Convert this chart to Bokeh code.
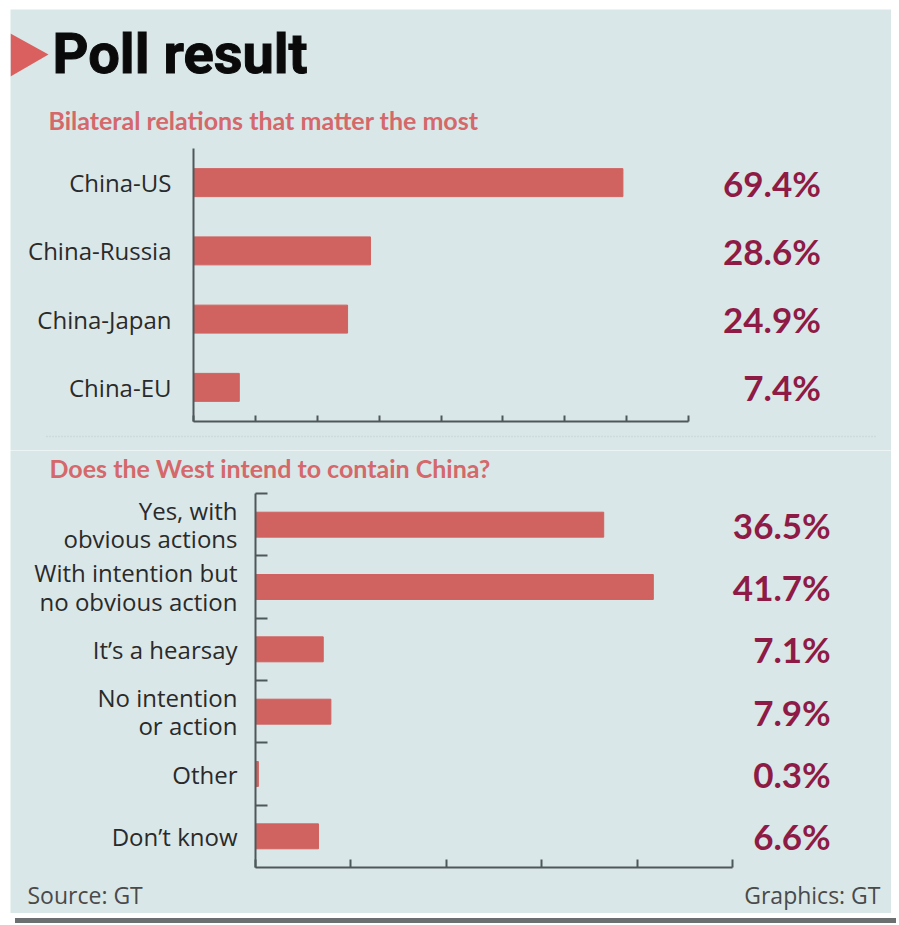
from bokeh.plotting import figure
from bokeh.models import Range1d, FixedTicker, Label, PolyAnnotation, ColumnDataSource, Div
from bokeh.layouts import column
from bokeh.embed import file_html
from bokeh.resources import INLINE
from bokeh.core.properties import value

# ---------------- data ----------------
title_text = "Poll result"
subtitle_top = "Bilateral relations that matter the most"
subtitle_bottom = "Does the West intend to contain China?"

relations = ["China-US", "China-Russia", "China-Japan", "China-EU"]
relation_pct = [69.4, 28.6, 24.9, 7.4]
relation_ticks = [0, 10, 20, 30, 40, 50, 60, 70, 80]

answers = ["Yes, with\nobvious actions", "With intention but\nno obvious action",
           "It\u2019s a hearsay", "No intention\nor action", "Other", "Don\u2019t know"]
answer_pct = [36.5, 41.7, 7.1, 7.9, 0.3, 6.6]
answer_ticks = [0, 10, 20, 30, 40, 50]

source_text = "Source: GT"
credit_text = "Graphics: GT"

# ---------------- styles ----------------
BG = "#dae7e8"
BAR = "#d0625f"
VAL = "#8e1b46"
AXIS = "#4c585a"
SUB = "#d4686a"

W = 881
HA = 441
HB = 463


def make_range(px_lo, px_hi, v_lo, v_hi, total):
    scale = (px_hi - px_lo) / (v_hi - v_lo)
    start = v_lo - px_lo / scale
    return Range1d(start, start + total / scale)


def base_fig(xr, yr, h):
    p = figure(width=W, height=h, x_range=xr, y_range=yr, output_backend="svg",
               toolbar_location=None, title=None, background_fill_color=BG,
               border_fill_color=BG, min_border=0, min_border_left=0, min_border_right=0,
               min_border_top=0, min_border_bottom=0)
    p.grid.visible = False
    p.outline_line_color = None
    for ax in (p.xaxis[0], p.yaxis[0]):
        ax.axis_line_color = AXIS
        ax.axis_line_width = 2
        ax.major_tick_line_color = AXIS
        ax.major_tick_line_width = 2
        ax.minor_tick_line_color = AXIS
        ax.minor_tick_line_width = 2
    p.xaxis.major_tick_out = 0
    p.xaxis.minor_tick_in = 0
    p.xaxis.minor_tick_out = 0
    p.yaxis.major_tick_in = 0
    p.yaxis.major_tick_out = 0
    p.yaxis.major_label_text_font = "Open Sans"
    p.yaxis.major_label_text_font_size = "24px"
    p.yaxis.major_label_text_color = "#2a2a2a"
    p.yaxis.major_label_text_line_height = 0.85
    p.yaxis.fixed_location = 0
    return p


# ---------------- top chart ----------------
n1 = len(relations)
pos1 = [n1 - 1 - i for i in range(n1)]
srcA = ColumnDataSource(dict(y=pos1, v=relation_pct,
                             lab=[f"{v:.1f}%" for v in relation_pct],
                             lx=[101.4] * n1))

pA = base_fig(make_range(183, 678, relation_ticks[0], relation_ticks[-1], W),
              make_range(29, 302, -0.5, n1 - 0.5, HA), HA)
pA.hbar(y="y", right="v", left=0, height=0.41, source=srcA, color=BAR)
pA.text(x="lx", y="y", text="lab", source=srcA, text_align="right", text_baseline="middle",
        text_font=value("Lato"), text_font_style="bold", text_font_size="35px", text_color=VAL)
pA.xaxis.fixed_location = -0.5
pA.xaxis.bounds = (relation_ticks[0], relation_ticks[-1])
pA.xaxis.ticker = FixedTicker(ticks=relation_ticks, minor_ticks=[])
pA.xaxis.major_label_overrides = {t: "" for t in relation_ticks}
pA.xaxis.major_tick_in = 6
pA.yaxis.bounds = (-0.5, n1 - 0.5)
pA.yaxis.ticker = FixedTicker(ticks=pos1, minor_ticks=[])
pA.yaxis.major_label_overrides = {p: c for p, c in zip(pos1, relations)}
pA.yaxis.major_label_standoff = 22

pA.add_layout(PolyAnnotation(xs=[0, 0, 38], ys=[HA - 24, HA - 67, HA - 45],
                             xs_units="screen", ys_units="screen",
                             fill_color="#d9605f", fill_alpha=1, line_color=None))
pA.add_layout(Label(x=42, y=HA - 44, x_units="screen", y_units="screen", text=title_text,
                    text_font="Roboto", text_font_style="bold", text_font_size="56px",
                    text_color="#0a0a0a", text_baseline="alphabetic",
                    text_outline_color="#0a0a0a"))
pA.add_layout(Label(x=38, y=HA - 110, x_units="screen", y_units="screen", text=subtitle_top,
                    text_font="Lato", text_font_style="bold", text_font_size="25px",
                    text_color=SUB, text_baseline="alphabetic"))
pA.add_layout(PolyAnnotation(xs=[36, 867], ys=[14, 14], xs_units="screen", ys_units="screen",
                             fill_alpha=0, line_color="#8c9799", line_width=1.5, line_dash="1 2"))

# ---------------- bottom chart ----------------
n2 = len(answers)
pos2 = [n2 - 1 - i for i in range(n2)]
srcB = ColumnDataSource(dict(y=pos2, v=answer_pct,
                             lab=[f"{v:.1f}%" for v in answer_pct],
                             lx=[60.3] * n2))

pB = base_fig(make_range(245, 722, answer_ticks[0], answer_ticks[-1], W),
              make_range(46, 420, -0.5, n2 - 0.5, HB), HB)
pB.hbar(y="y", right="v", left=0, height=0.40, source=srcB, color=BAR)
pB.text(x="lx", y="y", text="lab", source=srcB, text_align="right", text_baseline="middle",
        text_font=value("Lato"), text_font_style="bold", text_font_size="35px", text_color=VAL)
pB.xaxis.fixed_location = -0.5
pB.xaxis.bounds = (answer_ticks[0], answer_ticks[-1])
pB.xaxis.ticker = FixedTicker(ticks=answer_ticks, minor_ticks=[])
pB.xaxis.major_label_overrides = {t: "" for t in answer_ticks}
pB.xaxis.major_tick_in = 8
pB.yaxis.bounds = (-0.5, n2 - 0.5)
pB.yaxis.ticker = FixedTicker(ticks=pos2, minor_ticks=[p + 0.5 for p in pos2])
pB.yaxis.minor_tick_in = 12
pB.yaxis.minor_tick_out = 0
pB.yaxis.major_label_overrides = {p: c for p, c in zip(pos2, answers)}
pB.yaxis.major_label_standoff = 18

pB.add_layout(Label(x=39, y=HB - 17, x_units="screen", y_units="screen", text=subtitle_bottom,
                    text_font="Lato", text_font_style="bold", text_font_size="25px",
                    text_color=SUB, text_baseline="alphabetic"))
pB.add_layout(Label(x=17, y=19, x_units="screen", y_units="screen", text=source_text,
                    text_font="Open Sans", text_font_size="23px",
                    text_color="#4a4a4a", text_baseline="alphabetic"))
pB.add_layout(Label(x=870, y=19, x_units="screen", y_units="screen", text=credit_text,
                    text_font="Open Sans", text_font_size="23px", text_align="right",
                    text_color="#4a4a4a", text_baseline="alphabetic"))

shadow = Div(width=W, height=5, styles={"background-color": "#6b6f70"})

layout = column(pA, pB, shadow, margin=(9, 0, 0, 10), spacing=0)

open("out.html", "w").write(file_html(layout, INLINE))
